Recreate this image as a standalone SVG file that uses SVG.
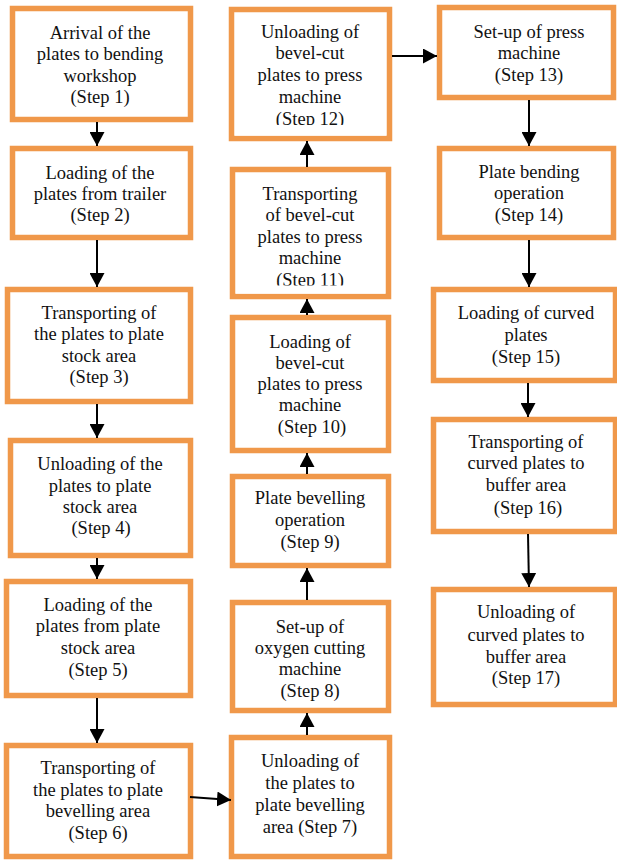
<svg xmlns="http://www.w3.org/2000/svg" width="617" height="861" viewBox="0 0 617 861">
<style>
.box{fill:#ffffff;stroke:#F0984A;stroke-width:5.5}
.t{font-size:18.5px;fill:#111;text-anchor:middle}
.mask{fill:#ffffff}
.c{stroke:#000;stroke-width:2;fill:none;marker-end:url(#ah)}
</style>
<defs>
<marker id="ah" viewBox="0 0 14 15" refX="14" refY="7.5" markerWidth="14" markerHeight="15" markerUnits="userSpaceOnUse" orient="auto">
<path d="M0,0 L14,7.5 L0,15 Z" fill="#000"/>
</marker>
</defs>
<rect width="617" height="861" fill="#fff"/>

<g id="step1"><rect class="box" x="12.5" y="8.5" width="178" height="111"/>
<text class="t" font-family="Liberation Serif, serif"><tspan x="100" y="38.5">Arrival of the</tspan><tspan x="100" y="60">plates to bending</tspan><tspan x="100" y="81.5">workshop</tspan><tspan x="100" y="103">(Step 1)</tspan></text></g>

<g id="step2"><rect class="box" x="12.5" y="148.5" width="178" height="89"/>
<text class="t" font-family="Liberation Serif, serif"><tspan x="100" y="179">Loading of the</tspan><tspan x="100" y="200">plates from trailer</tspan><tspan x="100" y="221">(Step 2)</tspan></text></g>

<g id="step3"><rect class="box" x="7.5" y="289.5" width="183" height="112"/>
<text class="t" font-family="Liberation Serif, serif"><tspan x="99" y="319">Transporting of</tspan><tspan x="99" y="340">the plates to plate</tspan><tspan x="99" y="361.5">stock area</tspan><tspan x="99" y="383">(Step 3)</tspan></text></g>

<g id="step4"><rect class="box" x="10.5" y="440.5" width="180" height="115"/>
<text class="t" font-family="Liberation Serif, serif"><tspan x="100" y="470">Unloading of the</tspan><tspan x="100" y="492">plates to plate</tspan><tspan x="100" y="513">stock area</tspan><tspan x="101" y="534">(Step 4)</tspan></text></g>

<g id="step5"><rect class="box" x="6.5" y="581.5" width="184" height="114"/>
<text class="t" font-family="Liberation Serif, serif"><tspan x="98" y="611">Loading of the</tspan><tspan x="98" y="632">plates from plate</tspan><tspan x="98" y="654">stock area</tspan><tspan x="98" y="676">(Step 5)</tspan></text></g>

<g id="step6"><rect class="box" x="6.5" y="745.5" width="184" height="111"/>
<text class="t" font-family="Liberation Serif, serif"><tspan x="98" y="774">Transporting of</tspan><tspan x="98" y="796">the plates to plate</tspan><tspan x="98" y="817">bevelling area</tspan><tspan x="98" y="839">(Step 6)</tspan></text></g>

<g id="step7"><rect class="box" x="231.5" y="737.5" width="158" height="119"/>
<text class="t" font-family="Liberation Serif, serif"><tspan x="310" y="767">Unloading of</tspan><tspan x="310" y="789">the plates to</tspan><tspan x="310" y="811">plate bevelling</tspan><tspan x="310" y="833">area (Step 7)</tspan></text></g>

<g id="step8"><rect class="box" x="232.5" y="602.5" width="156" height="108"/>
<text class="t" font-family="Liberation Serif, serif"><tspan x="310" y="633">Set-up of</tspan><tspan x="310" y="654">oxygen cutting</tspan><tspan x="310" y="675">machine</tspan><tspan x="310" y="697">(Step 8)</tspan></text></g>

<g id="step9"><rect class="box" x="232.5" y="476.5" width="156" height="89"/>
<text class="t" font-family="Liberation Serif, serif"><tspan x="310" y="504">Plate bevelling</tspan><tspan x="310" y="526">operation</tspan><tspan x="310" y="548">(Step 9)</tspan></text></g>

<g id="step10"><rect class="box" x="232.5" y="317.5" width="156" height="133"/>
<text class="t" font-family="Liberation Serif, serif"><tspan x="310" y="348">Loading of</tspan><tspan x="310" y="369">bevel-cut</tspan><tspan x="310" y="390">plates to press</tspan><tspan x="310" y="411">machine</tspan><tspan x="312" y="433">(Step 10)</tspan></text></g>

<g id="step11"><rect class="box" x="232.5" y="169.5" width="156" height="127"/>
<text class="t" font-family="Liberation Serif, serif"><tspan x="310" y="200">Transporting</tspan><tspan x="310" y="221">of bevel-cut</tspan><tspan x="310" y="243">plates to press</tspan><tspan x="310" y="264">machine</tspan><tspan x="310" y="286">(Step 11)</tspan></text>
<rect class="mask" x="236" y="285.5" width="149" height="8"/></g>

<g id="step12"><rect class="box" x="231.5" y="9.5" width="158" height="129"/>
<text class="t" font-family="Liberation Serif, serif"><tspan x="310" y="38">Unloading of</tspan><tspan x="310" y="59">bevel-cut</tspan><tspan x="310" y="81">plates to press</tspan><tspan x="310" y="102.5">machine</tspan><tspan x="310" y="125">(Step 12)</tspan></text>
<rect class="mask" x="235" y="125" width="151" height="10.5"/></g>

<g id="step13"><rect class="box" x="439.5" y="7.5" width="174" height="90"/>
<text class="t" font-family="Liberation Serif, serif"><tspan x="529" y="38">Set-up of press</tspan><tspan x="529" y="59">machine</tspan><tspan x="529" y="81">(Step 13)</tspan></text></g>

<g id="step14"><rect class="box" x="439.5" y="148.5" width="174" height="89"/>
<text class="t" font-family="Liberation Serif, serif"><tspan x="529" y="178">Plate bending</tspan><tspan x="529" y="199">operation</tspan><tspan x="529" y="221">(Step 14)</tspan></text></g>

<g id="step15"><rect class="box" x="433.5" y="289.5" width="182" height="91"/>
<text class="t" font-family="Liberation Serif, serif"><tspan x="526" y="319">Loading of curved</tspan><tspan x="526" y="341">plates</tspan><tspan x="526" y="363">(Step 15)</tspan></text></g>

<g id="step16"><rect class="box" x="433.5" y="419.5" width="182" height="112"/>
<text class="t" font-family="Liberation Serif, serif"><tspan x="526" y="448">Transporting of</tspan><tspan x="526" y="469">curved plates to</tspan><tspan x="526" y="491">buffer area</tspan><tspan x="528" y="514">(Step 16)</tspan></text></g>

<g id="step17"><rect class="box" x="433.5" y="589.5" width="182" height="115"/>
<text class="t" font-family="Liberation Serif, serif"><tspan x="526" y="618">Unloading of</tspan><tspan x="526" y="641">curved plates to</tspan><tspan x="526" y="663">buffer area</tspan><tspan x="526" y="684">(Step 17)</tspan></text></g>

<g id="connectors">
<line class="c" x1="97" y1="122" x2="97" y2="146"/>
<line class="c" x1="97" y1="240" x2="97" y2="287"/>
<line class="c" x1="97" y1="404" x2="97" y2="438"/>
<line class="c" x1="97" y1="558" x2="97" y2="579"/>
<line class="c" x1="97" y1="698" x2="97" y2="743"/>
<line class="c" x1="190" y1="797" x2="231" y2="800"/>
<line class="c" x1="307" y1="735" x2="307" y2="713"/>
<line class="c" x1="307" y1="600" x2="307" y2="568"/>
<line class="c" x1="307" y1="474" x2="307" y2="453"/>
<line class="c" x1="307" y1="315" x2="307" y2="299"/>
<line class="c" x1="307" y1="167" x2="307" y2="141"/>
<line class="c" x1="392" y1="56" x2="437" y2="56"/>
<line class="c" x1="529" y1="100" x2="529" y2="146"/>
<line class="c" x1="529" y1="240" x2="529" y2="287"/>
<line class="c" x1="528" y1="383" x2="528" y2="417"/>
<line class="c" x1="528" y1="534" x2="529" y2="587"/>
</g>
</svg>
